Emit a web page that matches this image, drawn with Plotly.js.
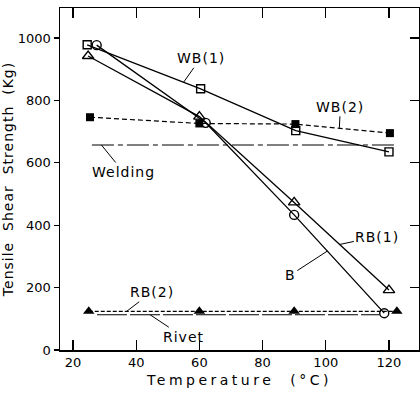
<!DOCTYPE html>
<html>
<head>
<meta charset="utf-8">
<script src="https://cdn.plot.ly/plotly-3.0.1.min.js"></script>
<style>
  html, body { margin: 0; padding: 0; background: #fff; }
  #chart { width: 420px; height: 393px; }
  .xtitle { letter-spacing: 3.5px; }
  .ytitle { letter-spacing: 1px; }
  .annotation-text { letter-spacing: 1px; }
</style>
</head>
<body>
<div id="chart"></div>
<script>
// Temperature (°C) / Tensile shear strength (Kg)
const wb1T = [24.5, 60.4, 90.5, 120];
const wb1V = [978, 837, 703, 635];

const bT = [27.5, 62, 90, 118.5];
const bV = [977, 728, 433, 118];

const rb1T = [24.8, 60, 90, 120];
const rb1V = [942, 748, 473, 192];

const wb2T = [25.4, 60, 90.4, 120.3];
const wb2V = [746, 726, 724, 695];

const rb2T = [25, 60, 90, 122.5];
const rb2V = [124, 124, 124, 124];

const weldingT = [26, 122];
const weldingV = [657, 657];

const rivetT = [27.6, 117];
const rivetV = [113, 113];

const xTicks = [20, 40, 60, 80, 100, 120];
const yTicks = [0, 200, 400, 600, 800, 1000];

const labels = ["WB(1)", "WB(2)", "Welding", "RB(1)", "B", "RB(2)", "Rivet"];
const labelPtX = [55, 104.3, 29, 104.3, 100.5, 37, 44.4];
const labelPtY = [858, 712, 657, 338, 317, 124, 113];
const labelAx = [17, 1, 22, 38, -37, 25, 33];
const labelAy = [-24, -21, 27, -8, 24, -19, 22];

const blk = '#000';
const traces = [
  {x: wb1T, y: wb1V, mode: 'lines+markers', line: {color: blk, width: 1.3},
   marker: {symbol: 'square-open', size: 8, color: blk, line: {width: 1.4}}},
  {x: bT, y: bV, mode: 'lines+markers', line: {color: blk, width: 1.3},
   marker: {symbol: 'circle-open', size: 9, color: blk, line: {width: 1.4}}},
  {x: rb1T, y: rb1V, mode: 'lines+markers', line: {color: blk, width: 1.3},
   marker: {symbol: 'triangle-up-open', size: 10, color: blk, line: {width: 1.4}}},
  {x: wb2T, y: wb2V, mode: 'lines+markers', line: {color: blk, width: 1.2, dash: '5px,3px'},
   marker: {symbol: 'square', size: 8, color: blk}},
  {x: rb2T, y: rb2V, mode: 'lines+markers', line: {color: blk, width: 1.2, dash: '4px,2px'},
   marker: {symbol: 'triangle-up', size: 10, color: blk}},
  {x: weldingT, y: weldingV, mode: 'lines', line: {color: blk, width: 1.2, dash: '22px,4px,5px,4px'}},
  {x: rivetT, y: rivetV, mode: 'lines', line: {color: blk, width: 1.2, dash: '30px,3px'}},
  {x: [], y: [], xaxis: 'x2', yaxis: 'y2', mode: 'markers', hoverinfo: 'skip'}
];

const font = {family: 'DejaVu Sans, sans-serif', size: 13, color: blk};

const annotations = labels.map((t, i) => ({
  x: labelPtX[i], y: labelPtY[i], xref: 'x', yref: 'y', text: t,
  showarrow: true, arrowhead: 0, arrowwidth: 1, arrowcolor: blk,
  ax: labelAx[i], ay: labelAy[i], standoff: 0, startstandoff: 0,
  font: {family: 'DejaVu Sans, sans-serif', size: 14, color: blk}
}));

const rangeX = [15.9, 129.5];
const rangeY = [0, 1096];

const layout = {
  width: 420, height: 393,
  margin: {l: 60, r: 1, t: 8, b: 43},
  paper_bgcolor: '#fff', plot_bgcolor: '#fff',
  showlegend: false,
  font: font,
  xaxis: {range: rangeX, tickvals: xTicks, ticks: 'inside', ticklen: 10, tickwidth: 1.3,
          tickcolor: blk, showline: true, linecolor: blk, linewidth: 1.5,
          showgrid: false, zeroline: false, tickfont: {size: 13},
          title: {text: 'Temperature  (°C)', font: {size: 14}, standoff: 6}},
  xaxis2: {range: rangeX, overlaying: 'x', side: 'top', tickvals: xTicks, ticks: 'inside',
           ticklen: 10, tickwidth: 1.3, tickcolor: blk, showticklabels: false,
           showline: true, linecolor: blk, linewidth: 1.5, showgrid: false, zeroline: false},
  yaxis: {range: rangeY, tickvals: yTicks, ticks: 'outside', ticklen: 5, tickwidth: 1.3,
          tickcolor: blk, showline: true, linecolor: blk, linewidth: 1.5,
          showgrid: false, zeroline: false, tickfont: {size: 13},
          title: {text: 'Tensile  Shear  Strength  (Kg)', font: {size: 14}, standoff: 4}},
  yaxis2: {range: rangeY, overlaying: 'y', side: 'right', tickvals: yTicks.slice(1), ticks: 'inside',
           ticklen: 9, tickwidth: 1.3, tickcolor: blk, showticklabels: false,
           showline: true, linecolor: blk, linewidth: 1.5, showgrid: false, zeroline: false},
  annotations: annotations
};

Plotly.newPlot('chart', traces, layout, {displayModeBar: false, staticPlot: true});
</script>
</body>
</html>
